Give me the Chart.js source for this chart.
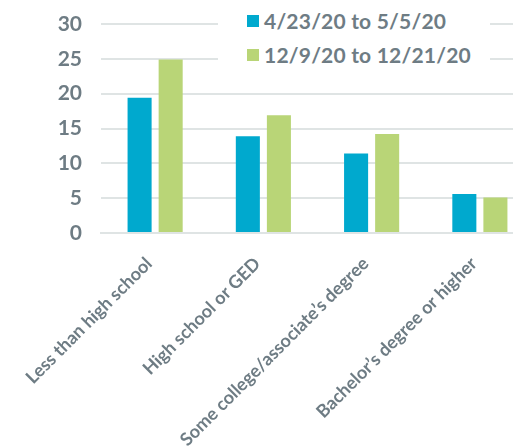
<!DOCTYPE html>
<html>
<head>
<meta charset="utf-8">
<script src="https://cdn.jsdelivr.net/npm/chart.js@4"></script>
<style>
  body { margin: 0; background: #fff; }
  #wrap { position: relative; width: 513px; height: 448px; overflow: hidden; }
  #legend {
    position: absolute; left: 218px; top: 4px; width: 272px; height: 64px;
    background: #fff; font-family: Lato, sans-serif; font-weight: bold;
    font-size: 21px; letter-spacing: 0.2px; color: #6e7c84;
  }
  .item { position: absolute; left: 29px; height: 24px; line-height: 24px; white-space: nowrap; }
  .box { position: absolute; left: 0; top: 5px; width: 12px; height: 12px; }
  .txt { position: absolute; left: 17px; top: -1px; }
</style>
</head>
<body>
<div id="wrap">
  <canvas id="bar-chart" width="534" height="448" style="width:534px;height:448px"></canvas>
  <div id="legend"></div>
</div>
<script>
var categories = [
    'Less than high school',
    'High school or GED',
    'Some college/associate\u2019s degree',
    'Bachelor\u2019s degree or higher'
]
var seriesNames = ['4/23/20 to 5/5/20', '12/9/20 to 12/21/20']
var aprilMay = [19.4, 13.9, 11.4, 5.6]
var december = [24.9, 16.9, 14.2, 5.1]
var yTicks = [0, 5, 10, 15, 20, 25, 30]
var colorList = ['#00a9ce', '#b9d577']

var textGrey = '#6e7c84'
var gridGrey = '#dfe4e4'

function createGraph() {
    var ctx = document.getElementById('bar-chart').getContext('2d')
    var barChart = new Chart(ctx, {
        type: 'bar',
        data: {
            labels: categories,
            datasets: [{
                label: seriesNames[0],
                data: aprilMay,
                backgroundColor: colorList[0]
            }, {
                label: seriesNames[1],
                data: december,
                backgroundColor: colorList[1]
            }]
        },
        options: {
            responsive: false,
            animation: false,
            categoryPercentage: 0.574,
            barPercentage: 0.774,
            layout: { padding: { top: 24, right: 0, left: 0, bottom: 0 } },
            plugins: {
                legend: { display: false },
                tooltip: { enabled: false }
            },
            scales: {
                x: {
                    grid: { display: false, drawTicks: false },
                    border: { display: true, color: gridGrey, width: 2 },
                    ticks: {
                        color: textGrey,
                        font: { family: 'Lato', size: 18, weight: 'bold' },
                        minRotation: 45,
                        maxRotation: 45,
                        padding: 20,
                        labelOffset: -6,
                        autoSkip: false
                    },
                    afterFit: function (scale) { scale.height = 215 }
                },
                y: {
                    min: yTicks[0],
                    max: yTicks[yTicks.length - 1],
                    grid: { color: gridGrey, lineWidth: 2, drawTicks: false },
                    border: { display: false },
                    afterBuildTicks: function (scale) {
                        scale.ticks = yTicks.map(function (v) { return { value: v } })
                    },
                    ticks: {
                        color: textGrey,
                        font: { family: 'Lato', size: 21, weight: 'bold' },
                        padding: 19
                    },
                    afterFit: function (scale) {
                        scale.width = 101
                        scale.paddingTop = 0
                    }
                }
            }
        }
    })

    var legend = document.getElementById('legend')
    seriesNames.forEach(function (name, i) {
        var item = document.createElement('div')
        item.className = 'item'
        item.style.top = (6 + i * 34) + 'px'
        item.innerHTML = '<span class="box" style="background:' + colorList[i] + '"></span>' +
            '<span class="txt">' + name + '</span>'
        legend.appendChild(item)
    })
}

createGraph()
</script>
</body>
</html>
